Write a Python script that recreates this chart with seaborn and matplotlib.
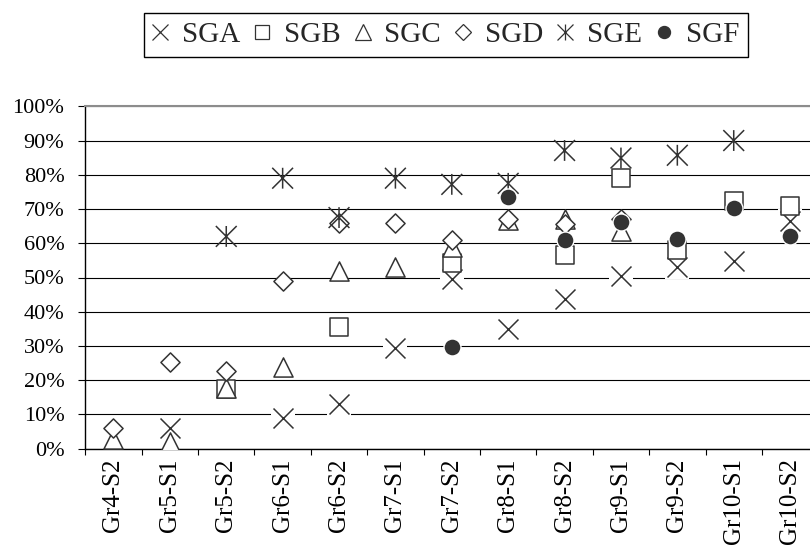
import numpy as np
import pandas as pd
import matplotlib
matplotlib.use("Agg")
import matplotlib.pyplot as plt
from matplotlib.path import Path
from matplotlib.markers import MarkerStyle
from matplotlib.lines import Line2D
from matplotlib.ticker import FixedLocator, NullFormatter, FixedFormatter, PercentFormatter
import seaborn as sns

# Share of students per grade/semester, six student groups (percent)
categories = ["Gr4-S2", "Gr5-S1", "Gr5-S2", "Gr6-S1", "Gr6-S2", "Gr7-S1", "Gr7-S2",
              "Gr8-S1", "Gr8-S2", "Gr9-S1", "Gr9-S2", "Gr10-S1", "Gr10-S2"]
nan = np.nan
sga = [nan, 6, nan, 9, 13, 29.3, 49.7, 35, 43.6, 50.5, 53.1, 54.8, 66.4]
sgb = [nan, nan, 17.4, nan, 35.4, nan, 54.2, nan, 56.5, 79.1, 58, 72.3, 71]
sgc = [2.7, 1.9, 17.8, 24, 51.8, 53, 58.8, 66.7, 67.2, 63.5, nan, nan, nan]
sgd = [5.9, 25.3, 22.7, 49, 66, 66, 60.9, 67, 65.6, 67.2, nan, nan, nan]
sge = [nan, nan, 62, 79, 67.5, 79, 77.2, 77.5, 87.1, 84.9, 85.7, 90, nan]
sgf = [nan, nan, nan, nan, nan, nan, 29.8, 73.4, 60.9, 66.2, 61.1, 70.2, 62.1]
series_names = ["SGA", "SGB", "SGC", "SGD", "SGE", "SGF"]
y_ticks = [0, 10, 20, 30, 40, 50, 60, 70, 80, 90, 100]

sns.set_style("white")
plt.rcParams["font.family"] = ["Liberation Serif", "DejaVu Serif"]

ink = "#333333"

# three-stroke asterisk: a cross plus a vertical bar
asterisk = MarkerStyle(
    Path([(-1, -1), (1, 1), (-1, 1), (1, -1), (0, -1), (0, 1)],
         [Path.MOVETO, Path.LINETO] * 3),
    fillstyle="none",
)


def frame(values):
    return pd.DataFrame({"grade": categories, "share": values})


fig = plt.figure(figsize=(8.1, 5.51), dpi=100)
ax = fig.add_axes([85.3 / 810, 102.3 / 551, 733 / 810, 342.4 / 551])

common = dict(x="grade", y="share", ax=ax, legend=False)

# SGA: white pad behind each cross so gridlines stop around it
sns.scatterplot(data=frame(sga), marker="s", s=290, color="white",
                linewidth=0, zorder=3, **common)
sns.scatterplot(data=frame(sga), marker="x", s=207, color=ink, edgecolor=None,
                linewidth=1.1, zorder=4, **common)
sns.scatterplot(data=frame(sgb), marker="s", s=150, color="white", edgecolor=ink,
                linewidth=1.1, zorder=5, **common)
sns.scatterplot(data=frame(sgc), marker="^", s=190, color="white", edgecolor=ink,
                linewidth=1.1, zorder=6, **common)
sns.scatterplot(data=frame(sgd), marker="D", s=95, color="white", edgecolor=ink,
                linewidth=1.1, zorder=7, **common)
sns.scatterplot(data=frame(sge), marker=asterisk, s=225, color=ink, edgecolor=None,
                linewidth=1.1, zorder=8, **common)
sns.scatterplot(data=frame(sgf), marker="o", s=150, color=ink, edgecolor="white",
                linewidth=1.0, zorder=9, **common)

n = len(categories)
ax.set_xlim(-0.5, n - 0.5)
ax.set_ylim(0, 100)
ax.set(xlabel="", ylabel="")

# ticks sit between categories, labels in the middle
ax.xaxis.set_major_locator(FixedLocator(np.arange(n + 1) - 0.5))
ax.xaxis.set_major_formatter(NullFormatter())
ax.xaxis.set_minor_locator(FixedLocator(np.arange(n)))
ax.xaxis.set_minor_formatter(FixedFormatter(categories))
ax.yaxis.set_major_locator(FixedLocator(y_ticks))
ax.yaxis.set_major_formatter(PercentFormatter(100, decimals=0))

ax.tick_params(axis="x", which="major", bottom=True, length=4.5, width=0.8,
               color="black", direction="out")
ax.tick_params(axis="x", which="minor", bottom=True, length=0, pad=7,
               labelsize=18, labelrotation=90, labelcolor="black")
ax.tick_params(axis="y", which="major", left=True, length=5, width=0.8,
               color="black", direction="out", pad=10, labelsize=16,
               labelcolor="black")

ax.grid(axis="y", color="black", linewidth=0.8)
ax.set_axisbelow(True)
for side in ("left", "bottom"):
    ax.spines[side].set_color("black")
    ax.spines[side].set_linewidth(1.0)
for side in ("top", "right"):
    ax.spines[side].set_color("#8c8c8c")
    ax.spines[side].set_linewidth(1.5)

handles = [
    Line2D([], [], linestyle="none", marker="x", markersize=11,
           markeredgewidth=0.9, color=ink),
    Line2D([], [], linestyle="none", marker="s", markersize=10,
           markerfacecolor="white", markeredgecolor=ink, markeredgewidth=0.9),
    Line2D([], [], linestyle="none", marker="^", markersize=12,
           markerfacecolor="white", markeredgecolor=ink, markeredgewidth=0.9),
    Line2D([], [], linestyle="none", marker="D", markersize=8,
           markerfacecolor="white", markeredgecolor=ink, markeredgewidth=0.9),
    Line2D([], [], linestyle="none", marker=asterisk, markersize=11.5,
           markeredgewidth=0.9, color=ink),
    Line2D([], [], linestyle="none", marker="o", markersize=8.6,
           markerfacecolor=ink, markeredgecolor=ink),
]
leg = fig.legend(handles, series_names, loc="center",
                 bbox_to_anchor=(446 / 810, 1 - 35 / 551), ncol=6,
                 prop={"family": "Liberation Serif", "size": 21},
                 handlelength=0.5, handletextpad=0.5, columnspacing=0.5,
                 borderpad=0.3, frameon=True, fancybox=False,
                 edgecolor="black", framealpha=1)
leg.get_frame().set_linewidth(1.0)

fig.savefig("out.png", dpi=100, facecolor="white")
